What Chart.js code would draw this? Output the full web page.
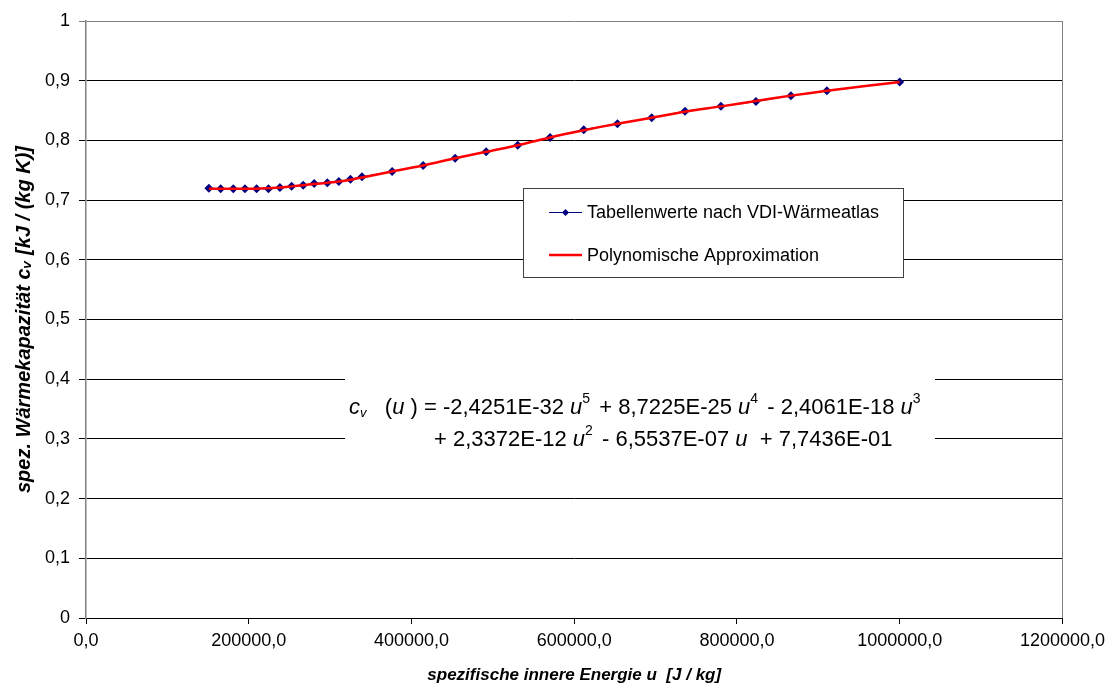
<!DOCTYPE html>
<html>
<head>
<meta charset="utf-8">
<script src="https://cdn.jsdelivr.net/npm/chart.js@4/dist/chart.umd.min.js"></script>
<style>
html,body{margin:0;padding:0;background:#fff;}
#wrap{width:1111px;height:686px;}
</style>
</head>
<body>
<div id="wrap"><canvas id="c" width="1111" height="686"></canvas></div>
<script>
// ---- data ----
const uValues = [151000,165500,181000,195300,209700,224200,238300,252700,266900,280400,296600,310700,325000,339200,376200,414300,453600,491700,530600,570300,611700,653100,695200,736100,780300,823300,866300,910500,1000000];
const cvTable = [0.720,0.719,0.719,0.719,0.719,0.719,0.721,0.723,0.725,0.728,0.729,0.731,0.735,0.739,0.748,0.758,0.770,0.781,0.792,0.805,0.818,0.828,0.838,0.849,0.857,0.865,0.875,0.883,0.898];
const cvApprox = [0.719,0.719,0.719,0.719,0.719,0.720,0.721,0.723,0.725,0.727,0.729,0.731,0.734,0.738,0.748,0.758,0.770,0.781,0.792,0.805,0.817,0.828,0.838,0.848,0.857,0.866,0.875,0.883,0.898];
const seriesLabels = ['Tabellenwerte nach VDI-Wärmeatlas','Polynomische Approximation'];
const xTickLabels = ['0,0','200000,0','400000,0','600000,0','800000,0','1000000,0','1200000,0'];
const yTickLabels = ['0','0,1','0,2','0,3','0,4','0,5','0,6','0,7','0,8','0,9','1'];
const xTitle = 'spezifische innere Energie u  [J / kg]';
const yTitle = 'spez. Wärmekapazität cᵥ [kJ / (kg K)]';
const eqLine1 = [['c','i'],['v','sub'],['   (',''],['u','i'],[' ) = -2,4251E-32 ',''],['u','i'],['5','sup'],[' + 8,7225E-25 ',''],['u','i'],['4','sup'],[' - 2,4061E-18 ',''],['u','i'],['3','sup']];
const eqLine2 = [['+ 2,3372E-12 ',''],['u','i'],['2','sup'],[' - 6,5537E-07 ',''],['u','i'],['  + 7,7436E-01','']];

const FONT = '"Liberation Sans", Arial, sans-serif';
const toPts = (ys) => ys.map((y, i) => ({x: uValues[i], y}));

const extras = {
  id: 'extras',
  afterDraw(chart) {
    const ctx = chart.ctx, a = chart.chartArea;
    ctx.save();
    // right border of plot area
    ctx.strokeStyle = '#808080'; ctx.lineWidth = 1;
    ctx.beginPath(); ctx.moveTo(Math.round(a.right) + 0.5, a.top); ctx.lineTo(Math.round(a.right) + 0.5, a.bottom); ctx.stroke();

    // equation text box
    const y = chart.scales.y;
    const bx = 345, bw = 590;
    const bTop = y.getPixelForValue(0.425), bBot = y.getPixelForValue(0.275);
    ctx.fillStyle = '#fff';
    ctx.fillRect(bx, bTop, bw, bBot - bTop);
    const size = 22;
    function drawLine(parts, x, base) {
      for (const [t, s] of parts) {
        let f = size, dy = 0, style = '';
        if (s === 'i') style = 'italic ';
        if (s === 'sub') { style = 'italic '; f = 13; dy = 3; }
        if (s === 'sup') { f = 14; dy = -11; }
        ctx.font = style + f + 'px ' + FONT;
        ctx.fillStyle = '#000';
        ctx.textBaseline = 'alphabetic';
        ctx.fillText(t, x, base + dy);
        x += ctx.measureText(t).width + (s === 'sup' ? 3 : 0);
      }
    }
    drawLine(eqLine1, 349, 414);
    drawLine(eqLine2, 434, 446);

    // legend
    const lx = 523, ly = 188, lw = 380, lh = 89;
    ctx.fillStyle = '#fff';
    ctx.fillRect(lx, ly, lw, lh);
    ctx.strokeStyle = '#404040'; ctx.lineWidth = 1;
    ctx.strokeRect(lx + 0.5, ly + 0.5, lw, lh);
    const rows = [212, 255];
    const ds = chart.data.datasets;
    // row 1: blue line + diamond
    ctx.strokeStyle = ds[1].borderColor; ctx.lineWidth = 1;
    ctx.beginPath(); ctx.moveTo(549, rows[0] + 0.5); ctx.lineTo(582, rows[0] + 0.5); ctx.stroke();
    ctx.fillStyle = ds[1].pointBackgroundColor;
    ctx.beginPath(); ctx.moveTo(565.5, rows[0] - 3); ctx.lineTo(569, rows[0] + 0.5); ctx.lineTo(565.5, rows[0] + 4); ctx.lineTo(562, rows[0] + 0.5); ctx.closePath(); ctx.fill();
    // row 2: red line
    ctx.strokeStyle = ds[0].borderColor; ctx.lineWidth = 2.5;
    ctx.beginPath(); ctx.moveTo(549, rows[1]); ctx.lineTo(582, rows[1]); ctx.stroke();
    ctx.fillStyle = '#000';
    ctx.font = '18px ' + FONT;
    ctx.textBaseline = 'middle';
    ctx.fillText(ds[1].label, 587, rows[0] + 1);
    ctx.fillText(ds[0].label, 587, rows[1] + 1);
    ctx.restore();
  }
};

new Chart(document.getElementById('c'), {
  type: 'line',
  data: {
    datasets: [
      {
        label: seriesLabels[1],
        data: toPts(cvApprox),
        borderColor: '#FF0000',
        borderWidth: 2.5,
        pointRadius: 0,
        tension: 0.3,
        fill: false
      },
      {
        label: seriesLabels[0],
        data: toPts(cvTable),
        borderColor: '#000080',
        borderWidth: 1,
        pointStyle: 'rectRot',
        pointRadius: 4.5,
        pointBackgroundColor: '#000080',
        pointBorderColor: '#000080',
        pointBorderWidth: 0,
        fill: false
      }
    ]
  },
  options: {
    responsive: false,
    devicePixelRatio: 1,
    animation: false,
    layout: {padding: {top: 21, right: 45, left: 0, bottom: 0}},
    plugins: {legend: {display: false}, tooltip: {enabled: false}},
    scales: {
      x: {
        type: 'linear', min: 0, max: 1200000,
        afterFit: s => { s.height = 68; },
        ticks: {stepSize: 200000, padding: 6, color: '#000', font: {family: FONT, size: 18},
          maxRotation: 0, autoSkip: false,
          callback: (v, i) => xTickLabels[i]},
        grid: {drawOnChartArea: false, drawTicks: true, tickLength: 6, color: '#000'},
        border: {color: '#000', width: 1},
        title: {display: true, text: xTitle, color: '#000', padding: {top: 0, bottom: 0},
          font: {family: FONT, size: 17, weight: 'bold', style: 'italic'}}
      },
      y: {
        type: 'linear', min: 0, max: 1,
        afterFit: s => { s.width = 86; },
        ticks: {stepSize: 0.1, padding: 9, color: '#000', font: {family: FONT, size: 18},
          autoSkip: false, callback: (v, i) => yTickLabels[i]},
        grid: {color: (c) => (c.index === 10 ? '#808080' : '#000'), lineWidth: 1, tickLength: 7, drawTicks: true},
        border: {color: '#808080', width: 1.5},
        title: {display: true, text: yTitle, color: '#000', padding: {top: 12, bottom: 0},
          font: {family: FONT, size: 20, weight: 'bold', style: 'italic'}}
      }
    }
  },
  plugins: [extras]
});
</script>
</body>
</html>
